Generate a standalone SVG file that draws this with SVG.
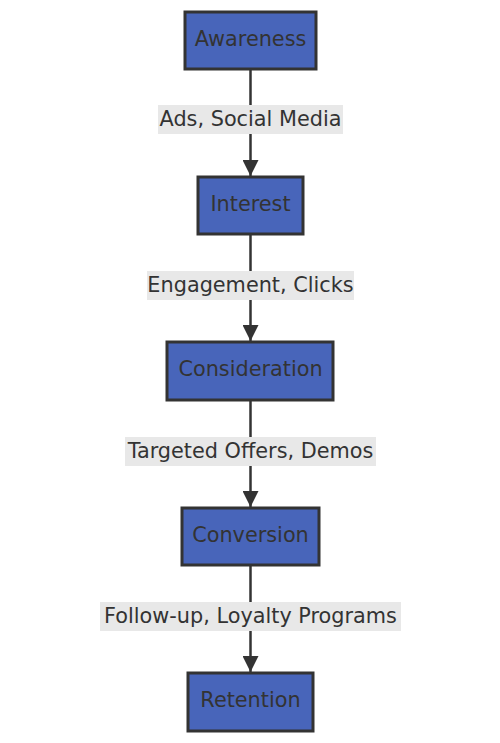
<svg xmlns="http://www.w3.org/2000/svg" width="500" height="743" viewBox="0 0 500 743">
<style>
.node rect{fill:#4865ba;stroke:#333333;stroke-width:3}
.node text,.lbl text{font-family:"DejaVu Sans",sans-serif;font-size:20.8px;fill:#333333;text-anchor:middle;dominant-baseline:central}
.lbl rect{fill:#e8e8e8}
.edge{stroke:#333333;stroke-width:2.5;fill:none}
</style>
<defs>
<marker id="ah" viewBox="0 0 12 12" refX="12" refY="6" markerWidth="16" markerHeight="16" markerUnits="userSpaceOnUse" orient="auto">
<path d="M0,0 L12,6 L0,12 z" fill="#333333"/>
</marker>
</defs>
<rect width="500" height="743" fill="#ffffff"/>
<g id="connectors">
<line class="edge" x1="250.5" y1="69" x2="250.5" y2="176" marker-end="url(#ah)"/>
<line class="edge" x1="250.5" y1="234" x2="250.5" y2="341" marker-end="url(#ah)"/>
<line class="edge" x1="250.5" y1="400" x2="250.5" y2="507" marker-end="url(#ah)"/>
<line class="edge" x1="250.5" y1="565" x2="250.5" y2="672" marker-end="url(#ah)"/>
<g class="lbl"><rect x="158" y="105" width="185" height="29"/><text x="250.5" y="119">Ads, Social Media</text></g>
<g class="lbl"><rect x="147" y="271" width="207" height="29"/><text x="250.5" y="285">Engagement, Clicks</text></g>
<g class="lbl"><rect x="125" y="437" width="251" height="29"/><text x="250.5" y="451">Targeted Offers, Demos</text></g>
<g class="lbl"><rect x="100" y="602" width="301" height="29"/><text x="250.5" y="616">Follow-up, Loyalty Programs</text></g>
</g>
<g id="awareness" class="node"><rect x="185" y="12" width="131" height="57"/><text x="250.5" y="38.5">Awareness</text></g>
<g id="interest" class="node"><rect x="198" y="177" width="105" height="57"/><text x="250.5" y="203.5">Interest</text></g>
<g id="consideration" class="node"><rect x="167" y="342" width="166" height="58"/><text x="250.5" y="369">Consideration</text></g>
<g id="conversion" class="node"><rect x="182" y="508" width="137" height="57"/><text x="250.5" y="534.5">Conversion</text></g>
<g id="retention" class="node"><rect x="188" y="673" width="125" height="58"/><text x="250.5" y="700">Retention</text></g>
</svg>
